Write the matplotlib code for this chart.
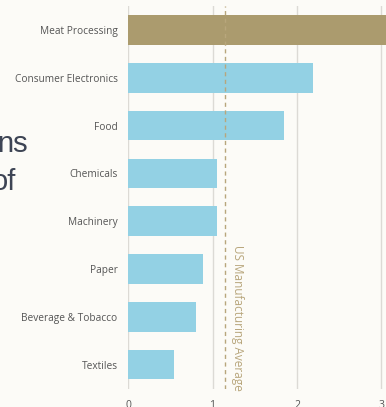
import matplotlib
matplotlib.use("Agg")
import matplotlib.pyplot as plt

categories = ["Meat Processing", "Consumer Electronics", "Food", "Chemicals",
              "Machinery", "Paper", "Beverage & Tobacco", "Textiles"]
values = [3.2, 2.19, 1.85, 1.05, 1.05, 0.89, 0.80, 0.55]
highlight = "Meat Processing"
us_average = 1.15
avg_label = "US Manufacturing Average"
x_ticks = [0, 1, 2, 3]

W, H = 386, 407
DPI = 100
bg = "#fcfbf7"
blue = "#93d1e4"
tan = "#ab9b6e"
avg_color = "#b8a67c"

fig = plt.figure(figsize=(W / DPI, H / DPI), dpi=DPI, facecolor=bg)
left_px, top_px, bottom_px = 128, 6, 388.5
ax = fig.add_axes([left_px / W, 1 - bottom_px / H, (W - left_px) / W, (bottom_px - top_px) / H])
ax.set_facecolor(bg)

colors = [tan if c == highlight else blue for c in categories]
ypos = list(range(len(categories)))
ax.barh(ypos, values, height=0.62, color=colors, zorder=3)
ax.set_ylim(len(categories) - 0.5, -0.5)
ax.set_xlim(0, (W - left_px) / 84.5)

ax.set_xticks(x_ticks)
ax.set_xticklabels([str(t) for t in x_ticks])
ax.set_yticks(ypos)
ax.set_yticklabels(categories)
ax.tick_params(axis="y", length=0, pad=7.5, labelsize=7.3, labelcolor="#555555")
ax.tick_params(axis="x", length=0, pad=8, labelsize=7.5, labelcolor="#555555")
for lab in ax.get_yticklabels() + ax.get_xticklabels():
    lab.set_fontfamily("Open Sans")

for s in ax.spines.values():
    s.set_visible(False)
ax.grid(axis="x", color="#dcdad5", linewidth=1, zorder=1)
ax.grid(axis="y", visible=False)

ax.axvline(us_average, color=avg_color, linestyle=(0, (3, 2.5)), linewidth=1, zorder=4)
ax.text(us_average + 0.15, 7.55, avg_label, rotation=-90, ha="center", va="bottom",
        color=avg_color, fontsize=8.5, fontfamily="Open Sans", zorder=5)

title_color = "#3d4454"
fig.text(28 / W, 1 - 152 / H, "ns", ha="right", va="baseline", fontsize=21,
         color=title_color, fontfamily="Liberation Sans")
fig.text(16 / W, 1 - 190 / H, "of", ha="right", va="baseline", fontsize=21,
         color=title_color, fontfamily="Liberation Sans")

fig.savefig("out.png", dpi=DPI, facecolor=bg)
